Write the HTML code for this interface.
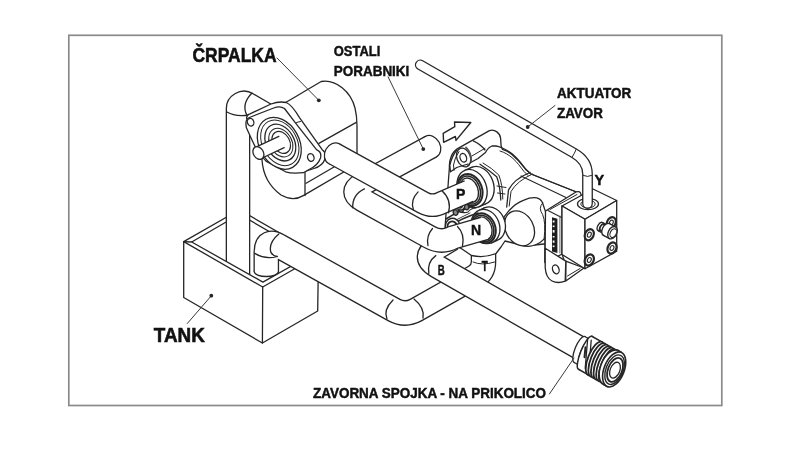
<!DOCTYPE html>
<html><head><meta charset="utf-8"><style>
html,body{margin:0;padding:0;background:#fff;}
svg{display:block;filter:grayscale(1);}
</style></head><body>
<svg width="800" height="450" viewBox="0 0 800 450">
<rect x="0" y="0" width="800" height="450" fill="#fff"/>
<rect x="68.8" y="35.3" width="653" height="370.2" fill="none" stroke="#8a8a8a" stroke-width="1.7"/>
<path d="M183.7,241.6 L239.5,209.8 L318.5,255.2" fill="none" stroke="#262626" stroke-width="1.3" stroke-linecap="round" stroke-linejoin="round"/>
<path d="M191.7,242 L239.5,214.3 L310.5,255.2" fill="none" stroke="#262626" stroke-width="1.3" stroke-linecap="round" stroke-linejoin="round"/>
<path d="M238,290 L238,109 A6,6 0 0 1 247.2,103.8 L268,115.8" fill="none" stroke="#262626" stroke-width="24.6" stroke-linecap="butt" stroke-linejoin="round"/><path d="M238,290 L238,109 A6,6 0 0 1 247.2,103.8 L268,115.8" fill="none" stroke="#fff" stroke-width="22" stroke-linecap="butt" stroke-linejoin="round"/>
<path d="M227,112 Q235,117 249,115" fill="none" stroke="#262626" stroke-width="1.3" stroke-linecap="round" stroke-linejoin="round"/>
<path d="M252,93 Q241,104 247,115.5" fill="none" stroke="#262626" stroke-width="1.3" stroke-linecap="round" stroke-linejoin="round"/>
<path d="M183.7,241.6 L191.7,242 L262.9,282.1 L310.5,255.2 L318.5,255.2 L317.7,311 L262.4,343 L183.7,297.5 Z" fill="#fff" stroke="#262626" stroke-width="1.3" stroke-linejoin="round"/>
<path d="M183.7,241.6 L262.7,287 L318.5,255.2" fill="none" stroke="#262626" stroke-width="1.3" stroke-linecap="round" stroke-linejoin="round"/>
<path d="M262.7,287 L262.4,343" fill="none" stroke="#262626" stroke-width="1.3" stroke-linecap="round" stroke-linejoin="round"/>
<path d="M266.3,271.5 L266.3,252 Q266.3,238.5 279,246 L394,310 Q405,316 416,310 L474.7,276.8 Q483.5,272 483.5,262 L483.5,244" fill="none" stroke="#262626" stroke-width="25.6" stroke-linecap="butt" stroke-linejoin="round"/><path d="M266.3,271.5 L266.3,252 Q266.3,238.5 279,246 L394,310 Q405,316 416,310 L474.7,276.8 Q483.5,272 483.5,262 L483.5,244" fill="none" stroke="#fff" stroke-width="23" stroke-linecap="butt" stroke-linejoin="round"/>
<path d="M254.8,270.8 L277.8,270.8 L277.8,271.5 A11.5,4.6 0 0 1 254.8,271.5 Z" fill="#fff"/>
<path d="M254.15,271.2 L254.15,271.5 A12.15,5 0 0 0 278.45,271.5 L278.45,271.2" fill="none" stroke="#262626" stroke-width="1.3" stroke-linecap="round" stroke-linejoin="round"/>
<path d="M254.7,253.4 Q265.6,260 277.2,256.5" fill="none" stroke="#262626" stroke-width="1.3" stroke-linecap="round" stroke-linejoin="round"/>
<path d="M278.8,234 Q268,243 271,252.7 Q273,256 277.2,256.5" fill="none" stroke="#262626" stroke-width="1.3" stroke-linecap="round" stroke-linejoin="round"/>
<path d="M393,300 Q383,310 387,319" fill="none" stroke="#262626" stroke-width="1.3" stroke-linecap="round" stroke-linejoin="round"/>
<path d="M414,299 Q425,308 423,318" fill="none" stroke="#262626" stroke-width="1.3" stroke-linecap="round" stroke-linejoin="round"/>
<path d="M449.4,167.2 C449,160 452,152 457.2,148.9 L489.4,130.6 C495,129 500,133 500.6,138.3 L501.1,146.1 L502.4,149.3 C508,151 513,155 516.4,158.7 C520,162 523,166 525.8,169.5 L531,174 L579,193 L579,200 L548,212 L545,212 L545,262 L551,279 L560,281 L566,266 L562,254 L544,244 L525,246 L505,241 L501,247 L496,253.5 Q484,258.5 471.5,255.5 L462,249 L455,245 L445,228 Z" fill="#fff" stroke="#262626" stroke-width="1.3" stroke-linejoin="round"/>
<path d="M473.3,140.8 Q480.8,144.2 485,150" fill="none" stroke="#262626" stroke-width="1.3" stroke-linecap="round" stroke-linejoin="round"/>
<path d="M471.7,156.1 L485,148.3" fill="none" stroke="#262626" stroke-width="1.0" stroke-linecap="round" stroke-linejoin="round"/>
<path d="M468,164 L478,158.5 L485.5,152.5 Q488,147.5 492,146 L496,146 Q499,146.5 501.1,147.5" fill="none" stroke="#262626" stroke-width="1.3" stroke-linecap="round" stroke-linejoin="round"/>
<ellipse cx="463.6" cy="157.5" rx="6.8" ry="9.6" transform="rotate(-20 463.6 157.5)" fill="#fff" stroke="#262626" stroke-width="1.3"/>
<ellipse cx="463.3" cy="157.8" rx="3.2" ry="4.4" transform="rotate(-20 463.3 157.8)" fill="#fff" stroke="#262626" stroke-width="1.3"/>
<path d="M466,147.5 Q471.5,153 471.3,161.5" fill="none" stroke="#555" stroke-width="1.8" stroke-linecap="round" stroke-linejoin="round"/>
<path d="M456.7,150 Q451.7,156.7 449.8,165 L450.5,171.7" fill="none" stroke="#262626" stroke-width="1.3" stroke-linecap="round" stroke-linejoin="round"/>
<path d="M459,151.5 Q454.5,158 453.5,165 L454,170.5" fill="none" stroke="#262626" stroke-width="1.0" stroke-linecap="round" stroke-linejoin="round"/>
<path d="M450.5,171.7 L456.7,167.5 L468,164" fill="none" stroke="#262626" stroke-width="1.3" stroke-linecap="round" stroke-linejoin="round"/>
<path d="M501.1,147.5 C506,149.5 510,151.5 514,155.5 C519,160 522,164.5 526,169.5 L531,174 L579,193" fill="none" stroke="#262626" stroke-width="1.3" stroke-linecap="round" stroke-linejoin="round"/>
<path d="M500,151 C505,152.5 509,155 513,158.5 C517,162 520.5,167 524,171.5 L528,175.5" fill="none" stroke="#262626" stroke-width="1.0" stroke-linecap="round" stroke-linejoin="round"/>
<path d="M521,176 L566,197.5" fill="none" stroke="#262626" stroke-width="1.1" stroke-linecap="round" stroke-linejoin="round"/>
<path d="M480,164.2 Q490,170.8 496.7,176.7 Q500,185 500.8,200" fill="none" stroke="#262626" stroke-width="1.3" stroke-linecap="round" stroke-linejoin="round"/>
<path d="M483,163 Q492.5,168.5 498.8,175 Q502.5,184 502.8,199" fill="none" stroke="#262626" stroke-width="1.0" stroke-linecap="round" stroke-linejoin="round"/>
<path d="M530,172.5 Q514,179 508.5,190 L506.7,207" fill="none" stroke="#262626" stroke-width="1.3" stroke-linecap="round" stroke-linejoin="round"/>
<path d="M532.5,174 Q517,181 511,191.5 L509.2,206" fill="none" stroke="#262626" stroke-width="1.0" stroke-linecap="round" stroke-linejoin="round"/>
<path d="M497,186 L506,187.5" fill="none" stroke="#262626" stroke-width="1.0" stroke-linecap="round" stroke-linejoin="round"/>
<path d="M497.5,193 L505,194" fill="none" stroke="#262626" stroke-width="1.0" stroke-linecap="round" stroke-linejoin="round"/>
<path d="M503.7,217.4 L509.4,210.2 Q516,203 523.9,200.1 Q531,197 536.8,197.9 Q541,199 542.6,203 L545.5,211.6 Q549.5,219 548.4,226.1 Q547,235 544.1,239.1 Q537,246 528.2,246.3 L523.9,245.6 Z" fill="#fff" stroke="#262626" stroke-width="1.3" stroke-linejoin="round"/>
<ellipse cx="519.5" cy="228.3" rx="14" ry="18.3" transform="rotate(-28 519.5 228.3)" fill="#fff" stroke="#262626" stroke-width="1.3"/>
<path d="M542.6,203 Q538,208 542.6,214.5 Q546,222 544.1,239.1" fill="none" stroke="#262626" stroke-width="1.0" stroke-linecap="round" stroke-linejoin="round"/>
<path d="M545.5,211 L576,192 Q580.5,190.5 581,194.5 L581,200 L562,206 L562,254 L548,262 L545,262 Z" fill="#fff" stroke="#262626" stroke-width="1.3" stroke-linejoin="round"/>
<path d="M550,209.5 L577,194.5" fill="none" stroke="#262626" stroke-width="1.0" stroke-linecap="round" stroke-linejoin="round"/>
<path d="M548,210.5 L561.5,217.5" fill="none" stroke="#262626" stroke-width="1.1" stroke-linecap="round" stroke-linejoin="round"/>
<path d="M552,217.3 L557.4,218.8 L557.4,253 L552,251.5 Z" fill="#1e1e1e"/>
<rect x="552.7" y="220.5" width="1.8" height="2" fill="#fff"/>
<rect x="552.7" y="225.5" width="1.8" height="1.6" fill="#fff"/>
<rect x="552.7" y="230" width="1.8" height="2.6" fill="#fff"/>
<rect x="552.7" y="236" width="1.8" height="1.5" fill="#fff"/>
<rect x="552.7" y="240.5" width="1.8" height="2.2" fill="#fff"/>
<rect x="552.7" y="245.5" width="1.8" height="1.6" fill="#fff"/>
<path d="M559.9,216 L559.9,253" fill="none" stroke="#555" stroke-width="0.9" stroke-linecap="round" stroke-linejoin="round"/>
<path d="M565.8,261.1 L584,268 L565.8,281 Z" fill="#fff" stroke="#262626" stroke-width="1.3" stroke-linejoin="round"/>
<path d="M567.5,276 L580,268.5" fill="none" stroke="#262626" stroke-width="1.0" stroke-linecap="round" stroke-linejoin="round"/>
<path d="M545.2,248.3 L545.2,267.8 Q546,278 552,281 Q558,284 565.2,281.1 L565.8,261.1 Z" fill="#fff" stroke="#262626" stroke-width="1.3" stroke-linejoin="round"/>
<ellipse cx="555.8" cy="269.4" rx="3.2" ry="4.5" transform="rotate(-20 555.8 269.4)" fill="#fff" stroke="#262626" stroke-width="1.3"/>
<ellipse cx="479" cy="185.5" rx="14.5" ry="19.5" transform="rotate(-20 479 185.5)" fill="#fff" stroke="#262626" stroke-width="1.3"/><path d="M485.67,203.82 L478.67,206.82 L465.33,170.18 L472.33,167.18 Z" fill="#fff"/><path d="M485.67,203.82 L478.67,206.82" fill="none" stroke="#262626" stroke-width="1.3" stroke-linecap="round" stroke-linejoin="round"/><path d="M472.33,167.18 L465.33,170.18" fill="none" stroke="#262626" stroke-width="1.3" stroke-linecap="round" stroke-linejoin="round"/><ellipse cx="472" cy="188.5" rx="14.5" ry="19.5" transform="rotate(-20 472 188.5)" fill="#fff" stroke="#262626" stroke-width="1.3"/>
<ellipse cx="470" cy="189.8" rx="12" ry="16.3" transform="rotate(-20 470 189.8)" fill="#fff" stroke="#262626" stroke-width="2.0"/>
<ellipse cx="469.7" cy="190" rx="10.3" ry="14.5" transform="rotate(-20 469.7 190)" fill="#fff" stroke="#262626" stroke-width="1.5"/>
<ellipse cx="469.3" cy="190.2" rx="8.7" ry="12.6" transform="rotate(-20 469.3 190.2)" fill="#fff" stroke="#262626" stroke-width="1.4"/>
<ellipse cx="491" cy="224" rx="14" ry="17.5" transform="rotate(-20 491 224)" fill="#fff" stroke="#262626" stroke-width="1.3"/><path d="M496.99,240.44 L491.49,242.94 L479.51,210.06 L485.01,207.56 Z" fill="#fff"/><path d="M496.99,240.44 L491.49,242.94" fill="none" stroke="#262626" stroke-width="1.3" stroke-linecap="round" stroke-linejoin="round"/><path d="M485.01,207.56 L479.51,210.06" fill="none" stroke="#262626" stroke-width="1.3" stroke-linecap="round" stroke-linejoin="round"/><ellipse cx="485.5" cy="226.5" rx="14" ry="17.5" transform="rotate(-20 485.5 226.5)" fill="#fff" stroke="#262626" stroke-width="1.3"/>
<ellipse cx="483.5" cy="228.3" rx="11.8" ry="15.3" transform="rotate(-20 483.5 228.3)" fill="#fff" stroke="#262626" stroke-width="2.0"/>
<ellipse cx="483.2" cy="228.5" rx="10.2" ry="13.6" transform="rotate(-20 483.2 228.5)" fill="#fff" stroke="#262626" stroke-width="1.5"/>
<ellipse cx="483" cy="228.6" rx="8.7" ry="12" transform="rotate(-20 483 228.6)" fill="#fff" stroke="#262626" stroke-width="1.4"/>
<path d="M446,219 Q458,211 476,205" fill="none" stroke="#262626" stroke-width="1.6" stroke-linecap="round" stroke-linejoin="round"/>
<path d="M448,227 Q462,218 478,213" fill="none" stroke="#262626" stroke-width="1.4" stroke-linecap="round" stroke-linejoin="round"/>
<path d="M452,222 L470,213" fill="none" stroke="#444" stroke-width="1.0" stroke-linecap="round" stroke-linejoin="round"/>
<path d="M458,210 Q462,214 468,212 Q471,208 476,208" fill="none" stroke="#262626" stroke-width="1.2" stroke-linecap="round" stroke-linejoin="round"/>
<ellipse cx="455.5" cy="212.5" rx="2.2" ry="2.8" transform="rotate(-20 455.5 212.5)" fill="#888" stroke="#262626" stroke-width="1.3"/>
<ellipse cx="461" cy="209.5" rx="2.2" ry="2.8" transform="rotate(-20 461 209.5)" fill="#888" stroke="#262626" stroke-width="1.3"/>
<ellipse cx="466.5" cy="207" rx="2.2" ry="2.8" transform="rotate(-20 466.5 207)" fill="#888" stroke="#262626" stroke-width="1.3"/>
<ellipse cx="453" cy="227" rx="7.5" ry="8.8" transform="rotate(-15 453 227)" fill="#fff" stroke="#262626" stroke-width="1.3"/>
<ellipse cx="452.5" cy="227.5" rx="5" ry="6.2" transform="rotate(-15 452.5 227.5)" fill="#fff" stroke="#262626" stroke-width="1.8"/>
<ellipse cx="460" cy="204" rx="5" ry="6" transform="rotate(-15 460 204)" fill="#fff" stroke="#262626" stroke-width="1.3"/>
<ellipse cx="459.6" cy="204.3" rx="3" ry="3.8" transform="rotate(-15 459.6 204.3)" fill="#fff" stroke="#262626" stroke-width="1.5"/>
<path d="M473,262 Q482,266 494.7,262" fill="none" stroke="#262626" stroke-width="1.0" stroke-linecap="round" stroke-linejoin="round"/>
<path d="M452,239 L437.2,247.7 Q420.7,257 437.2,266.5 L581.5,349" fill="none" stroke="#262626" stroke-width="24.6" stroke-linecap="butt" stroke-linejoin="round"/><path d="M452,239 L437.2,247.7 Q420.7,257 437.2,266.5 L581.5,349" fill="none" stroke="#fff" stroke-width="22" stroke-linecap="butt" stroke-linejoin="round"/>
<path d="M435.8,255.6 Q427,262 428.8,273.4" fill="none" stroke="#262626" stroke-width="1.3" stroke-linecap="round" stroke-linejoin="round"/>
<ellipse cx="431" cy="146.6" rx="9.8" ry="12.3" transform="rotate(-28 431 146.6)" fill="#262626"/><ellipse cx="431" cy="146.6" rx="8.5" ry="11.0" transform="rotate(-28 431 146.6)" fill="#fff"/>
<path d="M431,146.6 L362.8,183.7 Q348,192 362.9,200.2 L430,237.3 Q441.5,243.6 453,237.5 L484,228.5" fill="none" stroke="#262626" stroke-width="24.6" stroke-linecap="butt" stroke-linejoin="round"/><path d="M431,146.6 L362.8,183.7 Q348,192 362.9,200.2 L430,237.3 Q441.5,243.6 453,237.5 L485,228.2" fill="none" stroke="#fff" stroke-width="22" stroke-linecap="butt" stroke-linejoin="round"/>
<ellipse cx="431" cy="146.6" rx="8" ry="10.6" transform="rotate(-28 431 146.6)" fill="#fff"/>
<path d="M364.4,188.9 Q352,195 352.8,207.8" fill="none" stroke="#262626" stroke-width="1.3" stroke-linecap="round" stroke-linejoin="round"/>
<path d="M432.5,228.5 Q426,236 428,245.5" fill="none" stroke="#262626" stroke-width="1.3" stroke-linecap="round" stroke-linejoin="round"/>
<path d="M457.5,226.5 Q465,234 462.5,246" fill="none" stroke="#262626" stroke-width="1.3" stroke-linecap="round" stroke-linejoin="round"/>
<path d="M262,112 L283,104 L295.5,96.8 L307.2,89.8 L321.2,81.5 C336,79 351,92 355,108 C356.5,114 357,120 357,126 L357,164.2 L303.3,195.6 C296,200 288,199 281,195 C270,187 263,175 262,160 Z" fill="#fff" stroke="#262626" stroke-width="1.3" stroke-linejoin="round"/>
<path d="M318.9,143.4 L356.3,122.4" fill="none" stroke="#262626" stroke-width="1.3" stroke-linecap="round" stroke-linejoin="round"/>
<path d="M306.1,183.3 L334.4,166.7" fill="none" stroke="#262626" stroke-width="1.3" stroke-linecap="round" stroke-linejoin="round"/>
<path d="M305,171.1 L305,195.6" fill="none" stroke="#262626" stroke-width="1.3" stroke-linecap="round" stroke-linejoin="round"/>
<path d="M246.5,118 Q247,114.5 250,113.8 L271,104 Q279,101 286.3,102.5 Q292,105 299.5,117.6 L322.2,149.7 Q327,153 325,159 Q322.5,166 314,168.5 L306.4,171 L290,170 L266,160 Z" fill="#fff" stroke="#262626" stroke-width="1.3" stroke-linejoin="round"/>
<path d="M249.3,117.5 L273.7,108 Q280,105.5 284.5,108.5 L295.8,123.3 L316.5,149.7 Q322,152 320.5,158 Q318,165.5 309,169.5 L303.4,172.7 Q292,174 285.6,171.8 L266,161.1 Q257,152 252,140 L246.5,128 Q244.5,119.5 249.3,117.5 Z" fill="#fff" stroke="#262626" stroke-width="1.3" stroke-linejoin="round"/>
<path d="M296.5,122.5 L300.5,121.5" fill="none" stroke="#262626" stroke-width="1.0" stroke-linecap="round" stroke-linejoin="round"/>
<ellipse cx="250.6" cy="122.2" rx="3.2" ry="3.9" transform="rotate(-20 250.6 122.2)" fill="#fff" stroke="#262626" stroke-width="1.3"/>
<ellipse cx="310.8" cy="157.5" rx="3.2" ry="3.9" transform="rotate(-20 310.8 157.5)" fill="#fff" stroke="#262626" stroke-width="1.3"/>
<ellipse cx="279.3" cy="143.3" rx="20" ry="27.5" transform="rotate(-29 279.3 143.3)" fill="#fff" stroke="#262626" stroke-width="1.3"/>
<ellipse cx="279.8" cy="142.8" rx="17.3" ry="24.2" transform="rotate(-29 279.8 142.8)" fill="#fff" stroke="#262626" stroke-width="1.0"/>
<ellipse cx="280.3" cy="142.6" rx="14" ry="19.5" transform="rotate(-29 280.3 142.6)" fill="#fff" stroke="#262626" stroke-width="1.3"/>
<ellipse cx="280.8" cy="142.6" rx="11" ry="15.2" transform="rotate(-29 280.8 142.6)" fill="#fff" stroke="#262626" stroke-width="1.0"/>
<ellipse cx="281.2" cy="142.4" rx="8.5" ry="11.7" transform="rotate(-29 281.2 142.4)" fill="#fff" stroke="#262626" stroke-width="1.2"/>
<path d="M261.66,158.25 L284.16,147.65 L278.84,136.35 L256.34,146.95 Z" fill="#fff"/><path d="M261.66,158.25 L284.16,147.65" fill="none" stroke="#262626" stroke-width="1.3" stroke-linecap="round" stroke-linejoin="round"/><path d="M256.34,146.95 L278.84,136.35" fill="none" stroke="#262626" stroke-width="1.3" stroke-linecap="round" stroke-linejoin="round"/>
<ellipse cx="258.4" cy="153" rx="5" ry="6.8" transform="rotate(-30 258.4 153)" fill="#fff" stroke="#262626" stroke-width="1.3"/>
<ellipse cx="334" cy="153.7" rx="9.8" ry="11.8" transform="rotate(28.8 334 153.7)" fill="#262626"/><ellipse cx="334" cy="153.7" rx="8.5" ry="10.5" transform="rotate(28.8 334 153.7)" fill="#fff"/>
<path d="M334,153.7 L423,202.6 Q432.5,207.8 442,202.6 L469,191" fill="none" stroke="#262626" stroke-width="23.6" stroke-linecap="butt" stroke-linejoin="round"/><path d="M334,153.7 L423,202.6 Q432.5,207.8 442,202.6 L469.9,190.6" fill="none" stroke="#fff" stroke-width="21" stroke-linecap="butt" stroke-linejoin="round"/>
<ellipse cx="334" cy="153.7" rx="8" ry="10.1" transform="rotate(28.8 334 153.7)" fill="#fff"/>
<path d="M418.1,191.9 Q410,200 413.4,209.8" fill="none" stroke="#262626" stroke-width="1.3" stroke-linecap="round" stroke-linejoin="round"/>
<path d="M442.2,191 Q452,200 448.4,212.9" fill="none" stroke="#262626" stroke-width="1.3" stroke-linecap="round" stroke-linejoin="round"/>
<path d="M454.5,122 L470.8,122.5 L456,140.4 L455.4,136.5 L443.6,142.3 L443.2,133.3 L454.8,126.7 Z" fill="#fff" stroke="#262626" stroke-width="1.4" stroke-linejoin="round"/>
<ellipse cx="579.5" cy="349.5" rx="4.5" ry="14" transform="rotate(22 579.5 349.5)" fill="#fff" stroke="#262626" stroke-width="1.3"/><path d="M574.26,362.48 L579.89,365.72 L590.38,339.76 L584.74,336.52 Z" fill="#fff"/><path d="M574.26,362.48 L579.89,365.72" fill="none" stroke="#262626" stroke-width="1.3" stroke-linecap="round" stroke-linejoin="round"/><path d="M584.74,336.52 L590.38,339.76" fill="none" stroke="#262626" stroke-width="1.3" stroke-linecap="round" stroke-linejoin="round"/><ellipse cx="585.1355" cy="352.737" rx="4.5" ry="14" transform="rotate(22 585.1355 352.737)" fill="#fff" stroke="#262626" stroke-width="1.3"/>
<ellipse cx="585.1355" cy="352.737" rx="4.5" ry="17.8" transform="rotate(22 585.1355 352.737)" fill="#fff" stroke="#262626" stroke-width="1.5"/><path d="M578.47,369.24 L588.44,374.97 L601.77,341.96 L591.80,336.23 Z" fill="#fff"/><path d="M578.47,369.24 L588.44,374.97" fill="none" stroke="#262626" stroke-width="1.5" stroke-linecap="round" stroke-linejoin="round"/><path d="M591.80,336.23 L601.77,341.96" fill="none" stroke="#262626" stroke-width="1.5" stroke-linecap="round" stroke-linejoin="round"/><ellipse cx="595.106" cy="358.464" rx="4.5" ry="17.8" transform="rotate(22 595.106 358.464)" fill="#fff" stroke="#262626" stroke-width="1.5"/>
<path d="M587.7,338.2 L585.2,368.2" fill="none" stroke="#262626" stroke-width="1.3" stroke-linecap="round" stroke-linejoin="round"/>
<path d="M591.2,340.2 L588.7,371.2" fill="none" stroke="#262626" stroke-width="1.3" stroke-linecap="round" stroke-linejoin="round"/>
<path d="M585.5,347.2 L584.5,357.2" fill="none" stroke="#262626" stroke-width="2.0" stroke-linecap="round" stroke-linejoin="round"/>
<ellipse cx="595.106" cy="358.464" rx="7" ry="18" transform="rotate(22 595.106 358.464)" fill="#fff" stroke="#262626" stroke-width="1.8"/>
<ellipse cx="597.707" cy="359.958" rx="7" ry="18" transform="rotate(22 597.707 359.958)" fill="#fff" stroke="#262626" stroke-width="1.8"/>
<ellipse cx="600.308" cy="361.452" rx="7" ry="18" transform="rotate(22 600.308 361.452)" fill="#fff" stroke="#262626" stroke-width="1.8"/>
<ellipse cx="602.909" cy="362.946" rx="7" ry="18" transform="rotate(22 602.909 362.946)" fill="#fff" stroke="#262626" stroke-width="1.8"/>
<ellipse cx="605.51" cy="364.44" rx="7" ry="18" transform="rotate(22 605.51 364.44)" fill="#fff" stroke="#262626" stroke-width="1.8"/>
<ellipse cx="608.111" cy="365.934" rx="7" ry="18" transform="rotate(22 608.111 365.934)" fill="#fff" stroke="#262626" stroke-width="1.8"/>
<ellipse cx="610.712" cy="367.428" rx="7" ry="18" transform="rotate(22 610.712 367.428)" fill="#fff" stroke="#262626" stroke-width="1.8"/>
<ellipse cx="610.712" cy="367.428" rx="10" ry="18.5" transform="rotate(22 610.712 367.428)" fill="#fff" stroke="#262626" stroke-width="1.6"/><path d="M603.78,384.58 L607.25,386.57 L621.11,352.27 L617.64,350.28 Z" fill="#fff"/><path d="M603.78,384.58 L607.25,386.57" fill="none" stroke="#262626" stroke-width="1.6" stroke-linecap="round" stroke-linejoin="round"/><path d="M617.64,350.28 L621.11,352.27" fill="none" stroke="#262626" stroke-width="1.6" stroke-linecap="round" stroke-linejoin="round"/><ellipse cx="614.18" cy="369.42" rx="10" ry="18.5" transform="rotate(22 614.18 369.42)" fill="#fff" stroke="#262626" stroke-width="1.6"/>
<ellipse cx="614.6135" cy="369.669" rx="8.6" ry="15.5" transform="rotate(22 614.6135 369.669)" fill="#fff" stroke="#262626" stroke-width="1.4"/>
<ellipse cx="615.047" cy="369.918" rx="7" ry="12.6" transform="rotate(22 615.047 369.918)" fill="#fff" stroke="#262626" stroke-width="1.8"/>
<ellipse cx="614.9805" cy="370.16700000000003" rx="4.8" ry="8.3" transform="rotate(22 614.9805 370.16700000000003)" fill="#fff" stroke="#262626" stroke-width="1.3"/>
<path d="M562,206 L593,189 L616.7,200.5 L585,219.3 Z" fill="#fff" stroke="#262626" stroke-width="1.3" stroke-linejoin="round"/>
<path d="M562,206 L585,219.3 L585,268.7 L562,254.5 Z" fill="#fff" stroke="#262626" stroke-width="1.3" stroke-linejoin="round"/>
<path d="M585,219.3 L616.7,200.5 L616.7,251.3 L585,268.7 Z" fill="#fff" stroke="#262626" stroke-width="1.3" stroke-linejoin="round"/>
<ellipse cx="588" cy="204" rx="10.5" ry="5.6" transform="rotate(0 588 204)" fill="#fff" stroke="#262626" stroke-width="1.3"/>
<ellipse cx="588" cy="204" rx="7.2" ry="3.9" transform="rotate(0 588 204)" fill="#fff" stroke="#262626" stroke-width="1.0"/>
<ellipse cx="589.3" cy="234.7" rx="4.3" ry="5.8" transform="rotate(25 589.3 234.7)" fill="#fff" stroke="#262626" stroke-width="2.2"/>
<ellipse cx="589.3" cy="234.7" rx="1.8" ry="2.6" transform="rotate(25 589.3 234.7)" fill="#fff" stroke="#262626" stroke-width="1.1"/>
<ellipse cx="611.3" cy="222.7" rx="4.3" ry="5.8" transform="rotate(25 611.3 222.7)" fill="#fff" stroke="#262626" stroke-width="2.2"/>
<ellipse cx="611.3" cy="222.7" rx="1.8" ry="2.6" transform="rotate(25 611.3 222.7)" fill="#fff" stroke="#262626" stroke-width="1.1"/>
<ellipse cx="612" cy="248" rx="4.3" ry="5.8" transform="rotate(25 612 248)" fill="#fff" stroke="#262626" stroke-width="2.2"/>
<ellipse cx="612" cy="248" rx="1.8" ry="2.6" transform="rotate(25 612 248)" fill="#fff" stroke="#262626" stroke-width="1.1"/>
<ellipse cx="589.3" cy="260" rx="4.3" ry="5.8" transform="rotate(25 589.3 260)" fill="#fff" stroke="#262626" stroke-width="2.2"/>
<ellipse cx="589.3" cy="260" rx="1.8" ry="2.6" transform="rotate(25 589.3 260)" fill="#fff" stroke="#262626" stroke-width="1.1"/>
<ellipse cx="600.3" cy="226.6" rx="2.6" ry="4.6" transform="rotate(27 600.3 226.6)" fill="#fff" stroke="#262626" stroke-width="1.3"/><path d="M598.21,230.70 L600.41,231.80 L604.59,223.60 L602.39,222.50 Z" fill="#fff"/><path d="M598.21,230.70 L600.41,231.80" fill="none" stroke="#262626" stroke-width="1.3" stroke-linecap="round" stroke-linejoin="round"/><path d="M602.39,222.50 L604.59,223.60" fill="none" stroke="#262626" stroke-width="1.3" stroke-linecap="round" stroke-linejoin="round"/><ellipse cx="602.5" cy="227.7" rx="2.6" ry="4.6" transform="rotate(27 602.5 227.7)" fill="#fff" stroke="#262626" stroke-width="1.3"/>
<ellipse cx="602.5" cy="227.7" rx="2.2" ry="3.4" transform="rotate(27 602.5 227.7)" fill="#fff" stroke="#262626" stroke-width="1.3"/><path d="M600.96,230.73 L605.96,233.23 L609.04,227.17 L604.04,224.67 Z" fill="#fff"/><path d="M600.96,230.73 L605.96,233.23" fill="none" stroke="#262626" stroke-width="1.3" stroke-linecap="round" stroke-linejoin="round"/><path d="M604.04,224.67 L609.04,227.17" fill="none" stroke="#262626" stroke-width="1.3" stroke-linecap="round" stroke-linejoin="round"/><ellipse cx="607.5" cy="230.2" rx="2.2" ry="3.4" transform="rotate(27 607.5 230.2)" fill="#fff" stroke="#262626" stroke-width="1.3"/>
<ellipse cx="606.5" cy="229.6" rx="4.2" ry="6.6" transform="rotate(27 606.5 229.6)" fill="#fff" stroke="#262626" stroke-width="1.4"/><path d="M603.50,235.48 L609.50,238.58 L615.50,226.82 L609.50,223.72 Z" fill="#fff"/><path d="M603.50,235.48 L609.50,238.58" fill="none" stroke="#262626" stroke-width="1.4" stroke-linecap="round" stroke-linejoin="round"/><path d="M609.50,223.72 L615.50,226.82" fill="none" stroke="#262626" stroke-width="1.4" stroke-linecap="round" stroke-linejoin="round"/><ellipse cx="612.5" cy="232.7" rx="4.2" ry="6.6" transform="rotate(27 612.5 232.7)" fill="#fff" stroke="#262626" stroke-width="1.4"/>
<ellipse cx="613.3" cy="233.1" rx="3.0" ry="4.6" transform="rotate(27 613.3 233.1)" fill="#fff" stroke="#262626" stroke-width="1.1"/>
<path d="M420.3,64.9 L574,153.1 Q587.5,160.8 587.5,174 L587.5,203.5" fill="none" stroke="#262626" stroke-width="10.799999999999999" stroke-linecap="round" stroke-linejoin="round"/><path d="M420.3,64.9 L574,153.1 Q587.5,160.8 587.5,174 L587.5,203.5" fill="none" stroke="#fff" stroke-width="8.2" stroke-linecap="round" stroke-linejoin="round"/>
<path d="M576.2,149.2 Q574.5,153.5 572.2,157" fill="none" stroke="#262626" stroke-width="1.0" stroke-linecap="round" stroke-linejoin="round"/>
<path d="M583.4,175.5 Q587.5,177.5 591.6,175.5" fill="none" stroke="#262626" stroke-width="1.0" stroke-linecap="round" stroke-linejoin="round"/>
<path d="M277,58 L318.8,100.3" fill="none" stroke="#3a3a3a" stroke-width="1.0" stroke-linecap="round" stroke-linejoin="round"/>
<circle cx="318.8" cy="100.3" r="1.9" fill="#262626"/>
<path d="M388.1,76.9 L423.3,149.1" fill="none" stroke="#3a3a3a" stroke-width="1.0" stroke-linecap="round" stroke-linejoin="round"/>
<circle cx="423.3" cy="149.1" r="1.9" fill="#262626"/>
<path d="M555,105.5 L527.7,127" fill="none" stroke="#3a3a3a" stroke-width="1.0" stroke-linecap="round" stroke-linejoin="round"/>
<circle cx="527.7" cy="127" r="1.9" fill="#262626"/>
<path d="M187.3,323.5 L211.3,295.8" fill="none" stroke="#3a3a3a" stroke-width="1.0" stroke-linecap="round" stroke-linejoin="round"/>
<circle cx="211.3" cy="295.7" r="1.9" fill="#262626"/>
<path d="M549.4,394 L574,358" fill="none" stroke="#3a3a3a" stroke-width="1.0" stroke-linecap="round" stroke-linejoin="round"/>

<text x="192.5" y="62" style="font-family:'Liberation Sans',sans-serif;font-weight:bold;fill:#111;font-size:20px;stroke:#111;stroke-width:0.6px" textLength="84" lengthAdjust="spacingAndGlyphs">ČRPALKA</text>
<text x="333.8" y="55.5" style="font-family:'Liberation Sans',sans-serif;font-weight:bold;fill:#111;font-size:14px;stroke:#111;stroke-width:0.45px" textLength="46.5" lengthAdjust="spacingAndGlyphs">OSTALI</text>
<text x="333.8" y="76.3" style="font-family:'Liberation Sans',sans-serif;font-weight:bold;fill:#111;font-size:14px;stroke:#111;stroke-width:0.45px" textLength="75.5" lengthAdjust="spacingAndGlyphs">PORABNIKI</text>
<text x="557" y="98.1" style="font-family:'Liberation Sans',sans-serif;font-weight:bold;fill:#111;font-size:14px;stroke:#111;stroke-width:0.45px" textLength="74.3" lengthAdjust="spacingAndGlyphs">AKTUATOR</text>
<text x="557" y="118.1" style="font-family:'Liberation Sans',sans-serif;font-weight:bold;fill:#111;font-size:14px;stroke:#111;stroke-width:0.45px" textLength="45.8" lengthAdjust="spacingAndGlyphs">ZAVOR</text>
<text x="153.8" y="341.5" style="font-family:'Liberation Sans',sans-serif;font-weight:bold;fill:#111;font-size:20px;stroke:#111;stroke-width:0.6px" textLength="51" lengthAdjust="spacingAndGlyphs">TANK</text>
<text x="313" y="397.5" style="font-family:'Liberation Sans',sans-serif;font-weight:bold;fill:#111;font-size:14px;stroke:#111;stroke-width:0.45px" textLength="233" lengthAdjust="spacingAndGlyphs">ZAVORNA SPOJKA - NA PRIKOLICO</text>
<text x="456" y="198.7" style="font-family:'Liberation Sans',sans-serif;font-weight:bold;fill:#111;font-size:14px;stroke:#111;stroke-width:0.45px">P</text>
<text x="471" y="234.7" style="font-family:'Liberation Sans',sans-serif;font-weight:bold;fill:#111;font-size:14px;stroke:#111;stroke-width:0.45px">N</text>
<text x="437.8" y="274.5" style="font-family:'Liberation Sans',sans-serif;font-weight:bold;fill:#111;font-size:14px;stroke:#111;stroke-width:0.45px" textLength="7" lengthAdjust="spacingAndGlyphs">B</text>
<text x="481.8" y="270.6" style="font-family:'Liberation Sans',sans-serif;font-weight:bold;fill:#111;font-size:14.5px;stroke:#111;stroke-width:0.45px" textLength="6" lengthAdjust="spacingAndGlyphs">T</text>
<text x="594.5" y="185.3" style="font-family:'Liberation Sans',sans-serif;font-weight:bold;fill:#111;font-size:14.5px;stroke:#111;stroke-width:0.45px">Y</text>

</svg>
</body></html>
